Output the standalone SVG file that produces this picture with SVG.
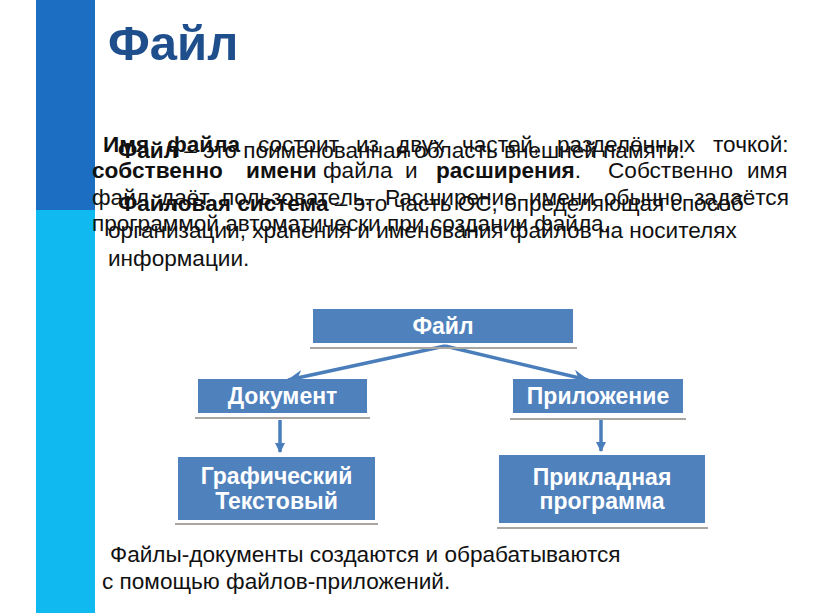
<svg xmlns="http://www.w3.org/2000/svg" width="816" height="613" viewBox="0 0 816 613">
<style>
  .t { font-family: "Liberation Sans", Arial, sans-serif; font-size: 22.6px; fill: #111111; }
  .b { font-weight: bold; }
  .box { fill: #4F81BD; }
  .lbl { font-family: "Liberation Sans", Arial, sans-serif; font-size: 23px; font-weight: bold; fill: #ffffff; text-anchor: middle; }
  .shade { stroke: #A9A6A2; stroke-width: 2; }
  .conn { stroke: #4A7EBB; stroke-width: 3.5; fill: none; }
</style>
<defs>
  <marker id="ah" markerUnits="userSpaceOnUse" markerWidth="18" markerHeight="16" refX="15" refY="8" orient="auto">
    <path d="M0,1 L16,8 L0,15 L5,8 Z" fill="#4A7EBB"/>
  </marker>
  <marker id="ahv" markerUnits="userSpaceOnUse" markerWidth="12" markerHeight="12" refX="9" refY="5" orient="auto">
    <path d="M0,0 L10,5 L0,10 Z" fill="#4A7EBB"/>
  </marker>
</defs>
<rect x="0" y="0" width="816" height="613" fill="#ffffff"/>
<rect x="36" y="0" width="59" height="210" fill="#1B6EC2"/>
<rect x="36" y="210" width="59" height="403" fill="#10B9EF"/>
<text x="108" y="60" font-family="Liberation Sans, Arial, sans-serif" font-size="49" font-weight="bold" fill="#1F4E8C">Файл</text>

<g id="paragraph-name">
  <text class="t" y="152"><tspan class="b" x="103">Имя</tspan><tspan class="b" x="167">файла</tspan><tspan x="258">состоит</tspan><tspan x="356">из</tspan><tspan x="397">двух</tspan><tspan x="462">частей,</tspan><tspan x="557">разделённых</tspan><tspan x="713">точкой:</tspan></text>
  <text class="t" y="178"><tspan class="b" x="92">собственно</tspan><tspan class="b" x="246">имени</tspan><tspan x="323">файла</tspan><tspan x="405">и</tspan><tspan class="b" x="436">расширения</tspan><tspan>.</tspan><tspan x="608">Собственно</tspan><tspan x="747">имя</tspan></text>
  <text class="t" y="205"><tspan x="92">файл</tspan><tspan x="161">даёт</tspan><tspan x="222">пользователь.</tspan><tspan x="385">Расширение</tspan><tspan x="529">имени</tspan><tspan x="604">обычно</tspan><tspan x="694">задаётся</tspan></text>
  <text class="t" x="92" y="231">программой автоматически при создании файла.</text>
</g>

<g id="paragraph-def">
  <text class="t" x="118" y="158"><tspan class="b">Файл</tspan> – это поименованная область внешней памяти.</text>
  <text class="t" x="118" y="211"><tspan class="b">Файловая система</tspan> – это часть ОС, определяющая способ</text>
  <text class="t" x="108" y="238">организации, хранения и именования файлов на носителях</text>
  <text class="t" x="108" y="266">информации.</text>
</g>

<g id="connectors">
  <line class="conn" x1="445" y1="346" x2="288" y2="380" marker-end="url(#ah)"/>
  <line class="conn" x1="445" y1="346" x2="588" y2="380" marker-end="url(#ah)"/>
  <line class="conn" x1="280" y1="420" x2="280" y2="452" stroke-width="3" marker-end="url(#ahv)"/>
  <line class="conn" x1="601" y1="420" x2="601" y2="451" stroke-width="3" marker-end="url(#ahv)"/>
</g>

<g id="node-file">
  <line class="shade" x1="310" y1="348" x2="577" y2="348"/>
  <rect class="box" x="313" y="309" width="260" height="34"/>
  <text class="lbl" x="443" y="334">Файл</text>
</g>
<g id="node-document">
  <line class="shade" x1="195" y1="418" x2="370" y2="418"/>
  <rect class="box" x="198" y="379" width="169" height="34"/>
  <text class="lbl" x="282.5" y="404">Документ</text>
</g>
<g id="node-application">
  <line class="shade" x1="510" y1="419" x2="686" y2="419"/>
  <rect class="box" x="513" y="379" width="170" height="34"/>
  <text class="lbl" x="598" y="404">Приложение</text>
</g>
<g id="node-graphic-text">
  <line class="shade" x1="175" y1="524" x2="378" y2="524"/>
  <rect class="box" x="178" y="457" width="197" height="63"/>
  <text class="lbl" x="276.5" y="484">Графический</text>
  <text class="lbl" x="276.5" y="509">Текстовый</text>
</g>
<g id="node-applied-program">
  <line class="shade" x1="497" y1="528" x2="708" y2="528"/>
  <rect class="box" x="499" y="455" width="206" height="68"/>
  <text class="lbl" x="602" y="485">Прикладная</text>
  <text class="lbl" x="602" y="509">программа</text>
</g>

<text class="t" x="110" y="562">Файлы-документы создаются и обрабатываются</text>
<text class="t" x="102" y="589">с помощью файлов-приложений.</text>
</svg>
